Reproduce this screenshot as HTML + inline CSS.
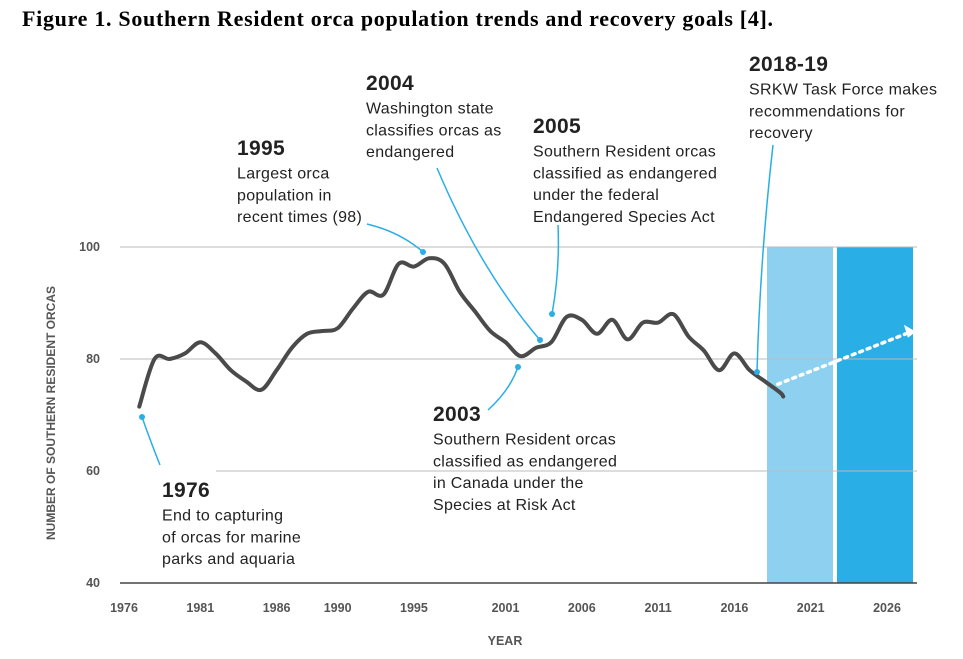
<!DOCTYPE html>
<html><head><meta charset="utf-8"><style>
body{margin:0;background:#fff;width:963px;height:659px;overflow:hidden;font-family:"Liberation Sans",sans-serif}
.t{position:absolute;left:22px;top:6px;font:bold 22px "Liberation Serif",serif;letter-spacing:0.7px;color:#000}
svg{position:absolute;left:0;top:0}
</style></head><body>
<div class="t">Figure 1. Southern Resident orca population trends and recovery goals [4].</div>
<svg id="c" width="963" height="659"></svg>
<script>
const years=[1977,1978,1979,1980,1981,1982,1983,1984,1985,1986,1987,1988,1989,1990,1991,1992,1993,1994,1995,1996,1997,1998,1999,2000,2001,2002,2003,2004,2005,2006,2007,2008,2009,2010,2011,2012,2013,2014,2015,2016,2017,2018,2019,2019.2];
const population=[71.5,80,80,81,83,81,78,76,74.5,78,82,84.5,85,85.5,89,92,91.5,97,96.5,98,97,92,88.5,85,83,80.5,82,83,87.5,87,84.5,87,83.5,86.5,86.5,88,84,81.5,78,81,78,76,74,73.3];
const xTicks=[1976,1981,1986,1990,1995,2001,2006,2011,2016,2021,2026];
const yTicks=[40,60,80,100];
const goalStart=[2019.5,75.5];const goalEnd=[2027.5,84.5];
const NS="http://www.w3.org/2000/svg",svg=document.getElementById('c');
const X=y=>124+(y-1976)*15.26, Y=v=>583-(v-40)*5.6;
function el(t,a,p){const e=document.createElementNS(NS,t);for(const k in a)e.setAttribute(k,a[k]);(p||svg).appendChild(e);return e;}
function txt(x,y,s,a,p){const e=el('text',Object.assign({x:x,y:y},a),p);e.textContent=s;return e;}
let b=el('rect',{x:767,y:Y(100),width:66,height:Y(40)-Y(100),fill:'#8dd0f0'});

b=el('rect',{x:837,y:Y(100),width:76,height:Y(40)-Y(100),fill:'#29aee6'});

yTicks.forEach(v=>{
 const g=el('line',{x1:v==60?216:120,x2:917,y1:Y(v),y2:Y(v),stroke:v==40?'#444':'#bbb','stroke-width':v==40?1.5:1});
 
 const t=txt(100,Y(v)+4,v,{'text-anchor':'end','font-size':12.5,'font-weight':'bold',fill:'#555'});
 
});
xTicks.forEach(v=>{
 const t=txt(X(v),612,v,{'text-anchor':'middle','font-size':12.5,'font-weight':'bold',fill:'#555'});
 
});
let t=txt(505,645,'YEAR',{'text-anchor':'middle','font-size':12.5,'font-weight':'bold',fill:'#555'});

t=txt(0,0,'NUMBER OF SOUTHERN RESIDENT ORCAS',{'text-anchor':'middle','font-size':12,'font-weight':'bold',fill:'#555',transform:'translate(55,413) rotate(-90)'});

const pts=years.map((y,i)=>[X(y),Y(population[i])]);
let d='M'+pts[0];
for(let i=0;i<pts.length-1;i++){const p0=pts[Math.max(0,i-1)],p1=pts[i],p2=pts[i+1],p3=pts[Math.min(pts.length-1,i+2)];
 d+=` C${p1[0]+(p2[0]-p0[0])/6},${p1[1]+(p2[1]-p0[1])/6} ${p2[0]-(p3[0]-p1[0])/6},${p2[1]-(p3[1]-p1[1])/6} ${p2[0]},${p2[1]}`;}
const ln=el('path',{d:d,fill:'none',stroke:'#4a4a4a','stroke-width':4,'stroke-linejoin':'round','stroke-linecap':'round'});

const gl=el('line',{x1:X(goalStart[0])-10,y1:Y(goalStart[1]),x2:X(goalEnd[0])-4,y2:Y(goalEnd[1]),stroke:'#fff','stroke-width':3.5,'stroke-dasharray':'3 5','stroke-linecap':'round'});

const ax=X(goalEnd[0])+6,ay=Y(goalEnd[1])-2;
el('polygon',{points:`${ax},${ay} ${ax-12},${ay-7} ${ax-8},${ay+6}`,fill:'#fff'});
const notes=[
 ['note-1976',162,497,['1976','End to capturing','of orcas for marine','parks and aquaria']],
 ['note-1995',237,155,['1995','Largest orca','population in','recent times (98)']],
 ['note-2004',366,90,['2004','Washington state','classifies orcas as','endangered']],
 ['note-2005',533,133,['2005','Southern Resident orcas','classified as endangered','under the federal','Endangered Species Act']],
 ['note-2003',433,421,['2003','Southern Resident orcas','classified as endangered','in Canada under the','Species at Risk Act']],
 ['note-2018',749,71,['2018-19','SRKW Task Force makes','recommendations for','recovery']]];
notes.forEach(n=>{const g=el('g',{});
 n[3].forEach((s,i)=>txt(n[1],n[2]+(i?i*21.7+2:0),s,i?{'font-size':16,'letter-spacing':0.3,fill:'#222'}:{'font-size':21,'font-weight':'bold','letter-spacing':0.3,fill:'#222'},g));});
const arrows=[['M160,465 Q150,440 142,417',142,417],['M367,224 Q400,232 423,252',423,252],['M437,168 Q480,270 540,340',540,340],['M558,225 Q560,270 552,314',552,314],['M488,410 Q510,390 518,367',518,367],['M773,145 Q760,260 757,372',757,372]];
arrows.forEach((a,i)=>{const p=el('path',{d:a[0],fill:'none',stroke:'#29aee6','stroke-width':1.5});
 
 el('circle',{cx:a[1],cy:a[2],r:3,fill:'#29aee6'});});
</script>
</body></html>
